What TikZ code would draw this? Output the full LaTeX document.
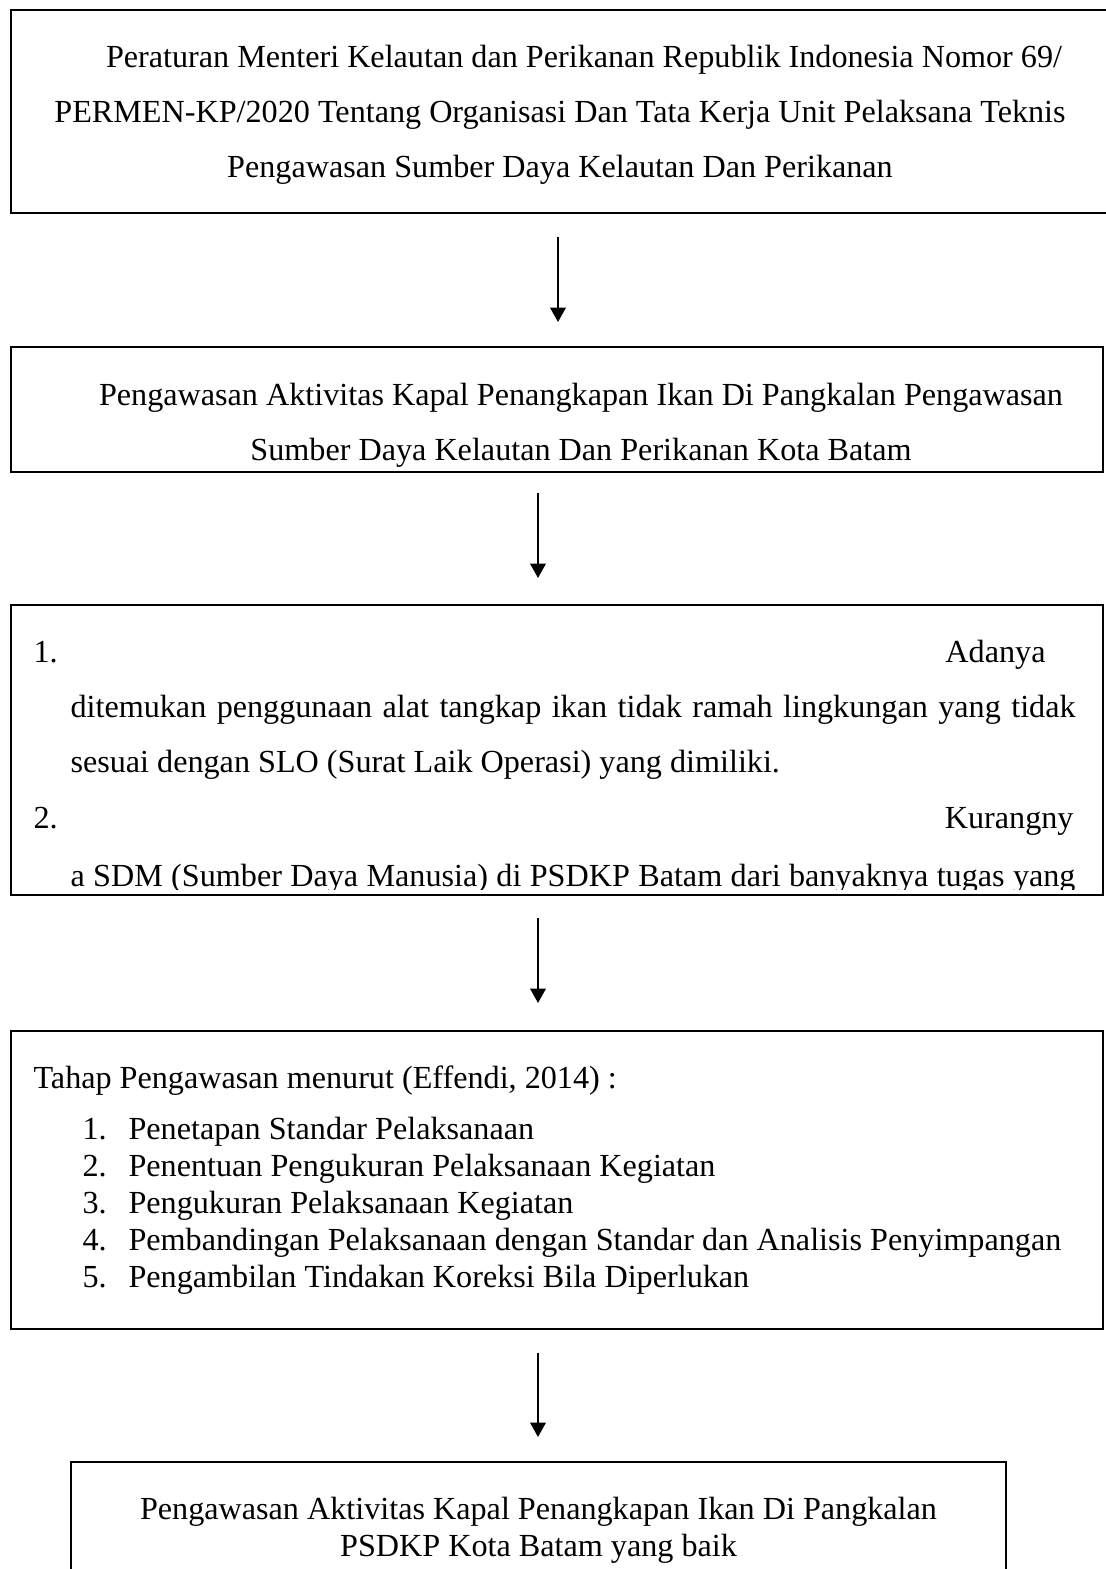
\documentclass[tikz,border=0pt]{standalone}
\usepackage{fontspec}
\setmainfont{Liberation Serif}
\usetikzlibrary{arrows.meta}
\newdimen\pxu \pxu=0.373pt

\begin{document}
\begin{tikzpicture}[x=0.373pt,y=-0.373pt,>={Triangle[length=5.4pt,width=5.8pt]}]
\tikzset{
    blk/.style={%
        draw=black, line width=1.1pt,
        rectangle, inner sep=0pt
        },
    txt/.style={%
        inner sep=0pt,
        font=\fontsize{12}{14}\selectfont
        },
    flow/.style={->, line width=0.8pt},
}
\useasboundingbox (0,0) rectangle (1105,1569);
%%%BOX 1
\node[blk, minimum width=1099*\pxu, minimum height=203*\pxu] (b1) at (560.5,111.5) {};
\path (584,68) node[txt, anchor=base] (t1a) {Peraturan Menteri Kelautan dan Perikanan Republik Indonesia Nomor 69/}
      (560,123) node[txt, anchor=base] (t1b) {PERMEN-KP/2020 Tentang Organisasi Dan Tata Kerja Unit Pelaksana Teknis}
      (560,178) node[txt, anchor=base] (t1c) {Pengawasan Sumber Daya Kelautan Dan Perikanan};
%%%BOX 2
\node[blk, minimum width=1092*\pxu, minimum height=125*\pxu] (b2) at (557,409.5) {};
\path (581,405) node[txt, anchor=base] (t2a) {Pengawasan Aktivitas Kapal Penangkapan Ikan Di Pangkalan Pengawasan}
      (581,460) node[txt, anchor=base] (t2b) {Sumber Daya Kelautan Dan Perikanan Kota Batam};
%%%BOX 3
\begin{scope}
\clip (12,606) rectangle (1102,889);
\path (33,662) node[txt, anchor=base west] (t3a) {\makebox[1012\pxu]{1.\hfill Adanya}}
      (70,717) node[txt, anchor=base west] (t3b) {\makebox[1005\pxu][s]{ditemukan penggunaan alat tangkap ikan tidak ramah lingkungan yang tidak}}
      (70,772) node[txt, anchor=base west] (t3c) {sesuai dengan SLO (Surat Laik Operasi) yang dimiliki.}
      (33,828) node[txt, anchor=base west] (t3d) {\makebox[1040\pxu]{2.\hfill Kurangny}}
      (70,886) node[txt, anchor=base west] (t3e) {\makebox[1005\pxu][s]{a SDM (Sumber Daya Manusia) di PSDKP Batam dari banyaknya tugas yang}};
\end{scope}
\node[blk, minimum width=1092*\pxu, minimum height=290*\pxu] (b3) at (557,750) {};
%%%BOX 4
\node[blk, minimum width=1092*\pxu, minimum height=298*\pxu] (b4) at (557,1180) {};
\path (33,1088) node[txt, anchor=base west] (t4) {Tahap Pengawasan menurut (Effendi, 2014) :}
      (82,1139) node[txt, anchor=base west] (n1) {1.}
      (128,1139) node[txt, anchor=base west] (s1) {Penetapan Standar Pelaksanaan}
      (82,1176) node[txt, anchor=base west] (n2) {2.}
      (128,1176) node[txt, anchor=base west] (s2) {Penentuan Pengukuran Pelaksanaan Kegiatan}
      (82,1213) node[txt, anchor=base west] (n3) {3.}
      (128,1213) node[txt, anchor=base west] (s3) {Pengukuran Pelaksanaan Kegiatan}
      (82,1250) node[txt, anchor=base west] (n4) {4.}
      (128,1250) node[txt, anchor=base west] (s4) {Pembandingan Pelaksanaan dengan Standar dan Analisis Penyimpangan}
      (82,1287) node[txt, anchor=base west] (n5) {5.}
      (128,1287) node[txt, anchor=base west] (s5) {Pengambilan Tindakan Koreksi Bila Diperlukan};
%%%BOX 5
\node[blk, minimum width=935*\pxu, minimum height=158*\pxu] (b5) at (538.5,1541) {};
\path (538.5,1519) node[txt, anchor=base] (t5a) {Pengawasan Aktivitas Kapal Penangkapan Ikan Di Pangkalan}
      (538.5,1556) node[txt, anchor=base] (t5b) {PSDKP Kota Batam yang baik};
%%%ARROWS
\coordinate (a1s) at (558,237); \coordinate (a1e) at (558,322);
\coordinate (a2s) at (538,493); \coordinate (a2e) at (538,578);
\coordinate (a3s) at (538,918); \coordinate (a3e) at (538,1003);
\coordinate (a4s) at (538,1353); \coordinate (a4e) at (538,1437);
\draw[flow] (a1s) -- (a1e);
\draw[flow] (a2s) -- (a2e);
\draw[flow] (a3s) -- (a3e);
\draw[flow] (a4s) -- (a4e);
\end{tikzpicture}
\end{document}
